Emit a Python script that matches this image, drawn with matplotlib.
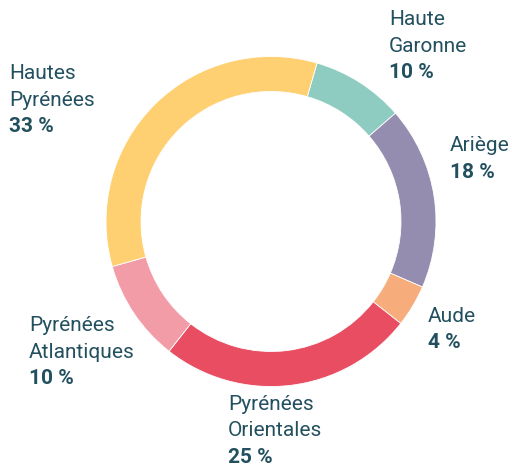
import matplotlib
matplotlib.use('Agg')
import matplotlib.pyplot as plt

# donnees (sens horaire, en partant de Haute Garonne)
departements = ['Haute\nGaronne', 'Ariège', 'Aude', 'Pyrénées\nOrientales',
                'Pyrénées\nAtlantiques', 'Hautes\nPyrénées']
parts = [10, 18, 4, 25, 10, 33]              # valeurs affichées
arcs = [9.1, 17.9, 4.1, 25.0, 10.0, 33.9]
couleurs = ['#8ecbc0', '#958db0', '#f6ad7b', '#e84d62', '#f29ca8', '#ffd071']

# position des etiquettes (pixels : gauche, ligne de base de la 1re ligne)
pos_labels = [(389, 25), (450, 151), (428, 322), (228, 410), (29, 331), (9, 79)]

W, H = 512, 468
txt_col = '#23505f'
plt.rcParams['font.family'] = ['Roboto', 'DejaVu Sans']

fig = plt.figure(figsize=(W / 100, H / 100), dpi=100)

cx, cy, R = 271, 221.5, 165
ax = fig.add_axes([(cx - R) / W, 1 - (cy + R) / H, 2 * R / W, 2 * R / H])
ax.pie(arcs, colors=couleurs, startangle=73.8, counterclock=False, radius=1,
       wedgeprops=dict(width=35 / R, edgecolor='white', linewidth=0.6))
ax.set_xlim(-1, 1)
ax.set_ylim(-1, 1)
ax.set_aspect('equal')
ax.axis('off')

lh = 26.5  # interligne en pixels
for nom, p, (x, y) in zip(departements, parts, pos_labels):
    lignes = nom.split('\n')
    for i, l in enumerate(lignes):
        fig.text(x / W, 1 - (y + i * lh) / H, l, fontsize=15, color=txt_col,
                 ha='left', va='baseline')
    fig.text(x / W, 1 - (y + len(lignes) * lh) / H, f'{p} %', fontsize=15,
             fontweight='bold', color=txt_col, ha='left', va='baseline')

fig.savefig('out.png', dpi=100)
